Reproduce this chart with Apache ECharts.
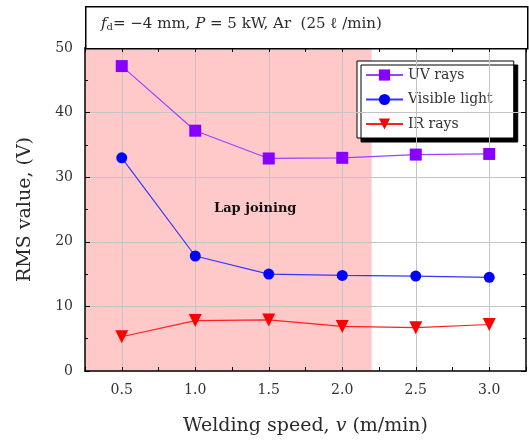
<!DOCTYPE html>
<html><head><meta charset="utf-8">
<script src="https://cdn.jsdelivr.net/npm/echarts@6/dist/echarts.min.js"></script>
<style>html,body{margin:0;padding:0;background:#fff}#c{width:529px;height:441px}</style>
</head><body><div id="c"></div>
<script>
const speeds = [0.5, 1.0, 1.5, 2.0, 2.5, 3.0];
const uvRays = [47.2, 37.2, 32.9, 33.0, 33.5, 33.6];
const visibleLight = [33.0, 17.8, 15.0, 14.8, 14.7, 14.5];
const irRays = [5.3, 7.8, 7.9, 6.9, 6.7, 7.2];
const xGridValues = [0.5, 1.0, 1.5, 2.0, 2.5, 3.0];
const yGridValues = [10, 20, 30, 40];
const lapRange = [0.25, 2.2];
const FONT = 'DejaVu Serif';

const chart = echarts.init(document.getElementById('c'), null, {renderer: 'canvas'});
const pair = arr => speeds.map((x, i) => [x, arr[i]]);
const axCommonX = {
  type: 'value', min: 0.25, max: 3.25, interval: 0.25, z: 5,
  axisLine: {show: true, onZero: false, lineStyle: {color: '#000', width: 1.5}},
  axisTick: {show: true, inside: true, length: 4, lineStyle: {color: '#000', width: 1}},
  splitLine: {show: false}
};
const axCommonY = {
  type: 'value', min: 0, max: 50, interval: 10, z: 5,
  axisLine: {show: true, onZero: false, lineStyle: {color: '#000', width: 1.5}},
  axisTick: {show: true, inside: true, length: 5, lineStyle: {color: '#000', width: 1}},
  minorTick: {show: true, splitNumber: 2, length: 3, lineStyle: {color: '#000', width: 1}},
  splitLine: {show: false}
};
const option = {
  animation: false,
  textStyle: {fontFamily: FONT},
  grid: {left: 85, top: 48, right: 2, bottom: 69, containLabel: false},
  xAxis: [
    Object.assign({}, axCommonX, {
      position: 'bottom',
      name: '{n|Welding speed, }{i|v}{n| (m/min)}',
      nameLocation: 'middle', nameGap: 46,
      nameTextStyle: {rich: {n: {fontFamily: FONT, fontSize: 19, color: '#2a2a2a'}, i: {fontFamily: FONT, fontStyle: 'italic', fontSize: 19, color: '#2a2a2a'}}},
      axisLabel: {
        fontFamily: FONT, fontSize: 14, color: '#333', margin: 12,
        formatter: v => (Math.abs(v * 2 - Math.round(v * 2)) < 1e-6 && v >= 0.5 && v <= 3.0) ? v.toFixed(1) : ''
      }
    }),
    Object.assign({}, axCommonX, {position: 'top', axisLabel: {show: false}})
  ],
  yAxis: [
    Object.assign({}, axCommonY, {
      position: 'left',
      name: 'RMS value, (V)', nameLocation: 'middle', nameGap: 50,
      nameTextStyle: {fontFamily: FONT, fontSize: 19, color: '#2a2a2a'},
      axisLabel: {fontFamily: FONT, fontSize: 14, color: '#333', margin: 12}
    }),
    Object.assign({}, axCommonY, {position: 'right', axisLabel: {show: false}})
  ],
  legend: {
    orient: 'vertical', left: 357, top: 61,
    data: ['UV rays', 'Visible light', 'IR rays'],
    itemWidth: 37, itemHeight: 14, itemGap: 10.5,
    padding: [7, 21, 7, 8],
    backgroundColor: '#fff', borderColor: '#000', borderWidth: 1,
    shadowColor: '#000', shadowBlur: 0, shadowOffsetX: 4, shadowOffsetY: 4,
    textStyle: {fontFamily: FONT, fontSize: 14, color: '#333'}
  },
  graphic: [
    {type: 'rect', left: 85, top: 6, shape: {width: 442, height: 42}, style: {fill: '#fff', stroke: '#000', lineWidth: 1.5}, z: 100},
    {type: 'text', left: 101, top: 17, z: 101,
      style: {
        text: '{i|f}{s|d}{n|= −4 mm, }{i|P}{n| = 5 kW, Ar  (25 ℓ /min)}',
        rich: {
          n: {fontFamily: FONT, fontSize: 15, fill: '#2a2a2a'},
          i: {fontFamily: FONT, fontStyle: 'italic', fontSize: 15, fill: '#2a2a2a'},
          s: {fontFamily: FONT, fontSize: 10, fill: '#2a2a2a', padding: [6, 0, 0, 0]}
        }
      }},
    {type: 'text', left: 214, top: 202, z: 30,
      style: {text: 'Lap joining', fontFamily: FONT, fontWeight: 'bold', fontSize: 13, fill: '#111'}}
  ],
  series: [
    {
      type: 'line', data: [], z: 1, silent: true, xAxisIndex: 0, yAxisIndex: 0,
      markArea: {silent: true, itemStyle: {color: '#ffc9c9', opacity: 1},
        data: [[{xAxis: lapRange[0], yAxis: 0}, {xAxis: lapRange[1], yAxis: 50}]]}
    },
    {
      type: 'line', data: [], z: 3, silent: true,
      markLine: {silent: true, symbol: 'none', label: {show: false},
        lineStyle: {color: '#c4c4c4', width: 1, type: 'solid'},
        data: xGridValues.map(v => ({xAxis: v})).concat(yGridValues.map(v => ({yAxis: v})))}
    },
    {
      name: 'UV rays', type: 'line', data: pair(uvRays), z: 10,
      symbol: 'rect', symbolSize: 12,
      lineStyle: {color: '#a040ff', width: 1.2},
      itemStyle: {color: '#8800ff'}
    },
    {
      name: 'Visible light', type: 'line', data: pair(visibleLight), z: 10,
      symbol: 'circle', symbolSize: 11,
      lineStyle: {color: '#3535ff', width: 1.2},
      itemStyle: {color: '#0000ff'}
    },
    {
      name: 'IR rays', type: 'line', data: pair(irRays), z: 10,
      symbol: 'triangle', symbolRotate: 180, symbolSize: 13,
      lineStyle: {color: '#ff2020', width: 1.2},
      itemStyle: {color: '#ff0000'}
    }
  ]
};
chart.setOption(option);
</script></body></html>
